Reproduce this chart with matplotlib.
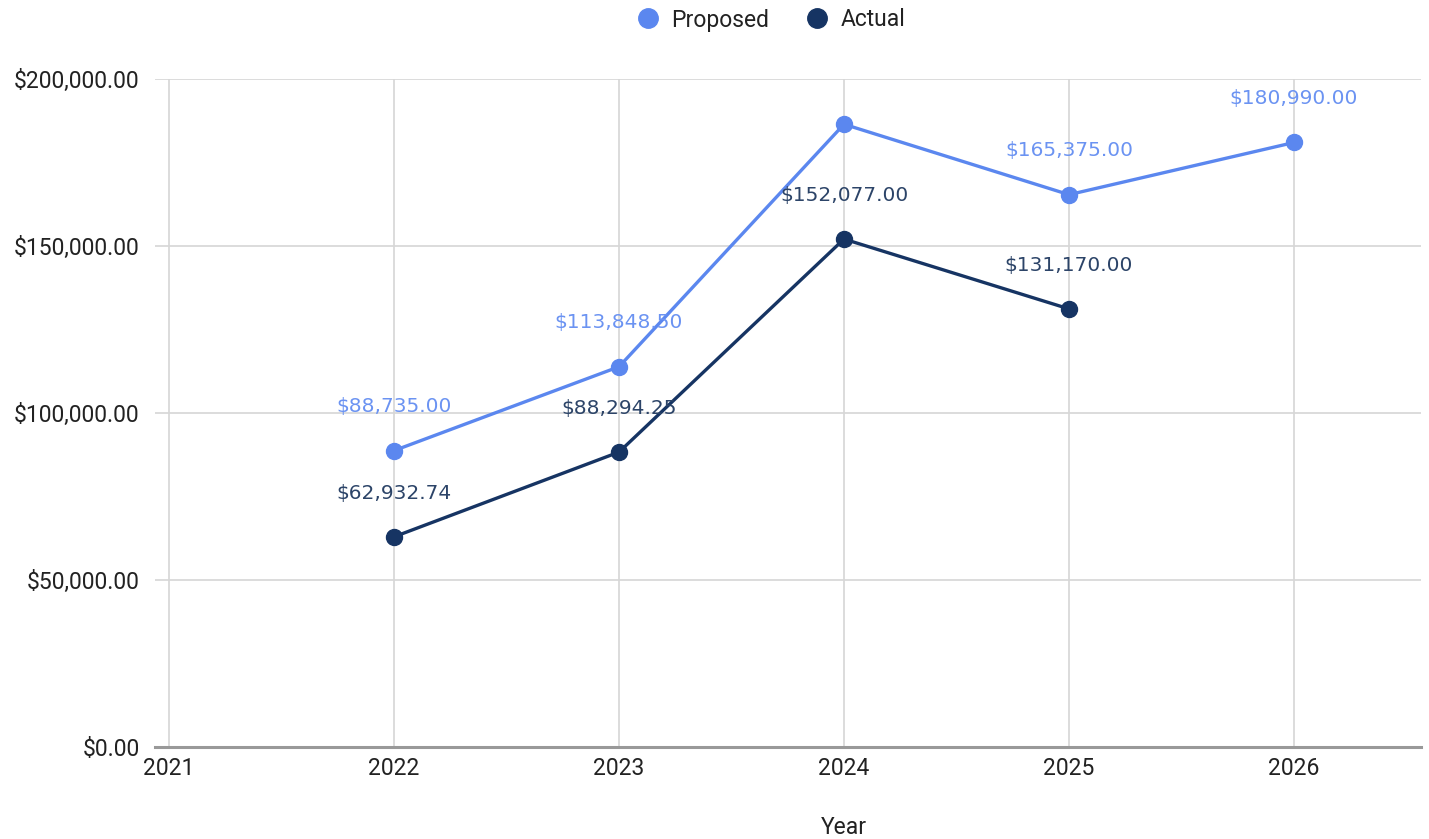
import matplotlib
matplotlib.use("Agg")
import matplotlib.pyplot as plt
from matplotlib.lines import Line2D

years = [2022, 2023, 2024, 2025, 2026]
proposed = [88735.00, 113848.50, 186450.00, 165375.00, 180990.00]
proposed_labels = ["$88,735.00", "$113,848.50", None, "$165,375.00", "$180,990.00"]
actual_years = [2022, 2023, 2024, 2025]
actual = [62932.74, 88294.25, 152077.00, 131170.00]
actual_labels = ["$62,932.74", "$88,294.25", "$152,077.00", "$131,170.00"]
x_ticks = [2021, 2022, 2023, 2024, 2025, 2026]
y_ticks = [0, 50000, 100000, 150000, 200000]
y_tick_labels = ["$0.00", "$50,000.00", "$100,000.00", "$150,000.00", "$200,000.00"]

c_prop = "#5b87ef"
c_act = "#163463"
c_prop_lbl = "#6b93f2"
c_act_lbl = "#2c4468"
c_text = "#222222"

W, H = 1429, 839
fig = plt.figure(figsize=(W / 100, H / 100), dpi=100)
ax = fig.add_axes([155 / W, 1 - 747 / H, (1421 - 155) / W, (747 - 79) / H])

ax.plot(years, proposed, color=c_prop, lw=2.4, marker="o", ms=11.5, zorder=3)
ax.plot(actual_years, actual, color=c_act, lw=2.4, marker="o", ms=11.5, zorder=3)

lblfont = dict(family="DejaVu Sans", fontsize=14.5)
for x, y, t in zip(years, proposed, proposed_labels):
    if t:
        ax.annotate(t, (x, y), xytext=(0, 31.5), textcoords="offset points",
                    ha="center", va="center", color=c_prop_lbl, zorder=4, **lblfont)
for x, y, t in zip(actual_years, actual, actual_labels):
    ax.annotate(t, (x, y), xytext=(0, 31.5), textcoords="offset points",
                ha="center", va="center", color=c_act_lbl, zorder=4, **lblfont)

tickfont = dict(family="Roboto", fontsize=16.5, color=c_text)
ax.set_xlim(2021 - 14 / 225, 2026 + 127 / 225)
ax.set_ylim(0, 200000)
ax.set_xticks(x_ticks)
ax.set_xticklabels([str(v) for v in x_ticks], **tickfont)
ax.set_yticks(y_ticks)
ax.set_yticklabels(y_tick_labels, **tickfont)
ax.tick_params(length=0)
ax.tick_params(axis="y", pad=11)
ax.tick_params(axis="x", pad=7)
ax.grid(True, color="#d6d6d6", lw=1.2, zorder=0)
ax.set_axisbelow(True)
for s in ["left", "right", "top"]:
    ax.spines[s].set_visible(False)
ax.spines["bottom"].set_color("#999999")
ax.spines["bottom"].set_linewidth(2.2)

fig.text(844 / W, 1 - 828 / H, "Year", family="Roboto", fontsize=16.5,
         color=c_text, ha="center", va="center")

handles = [
    Line2D([], [], ls="none", marker="o", ms=14, color=c_prop, label="Proposed"),
    Line2D([], [], ls="none", marker="o", ms=14, color=c_act, label="Actual"),
]
fig.legend(handles=handles, loc="center", bbox_to_anchor=(771 / W, 1 - 20 / H), ncol=2,
           frameon=False, prop=dict(family="Roboto", size=16.5), handletextpad=0.5,
           columnspacing=1.6, handlelength=1.0, labelcolor=c_text)

fig.savefig("out.png", dpi=100)
